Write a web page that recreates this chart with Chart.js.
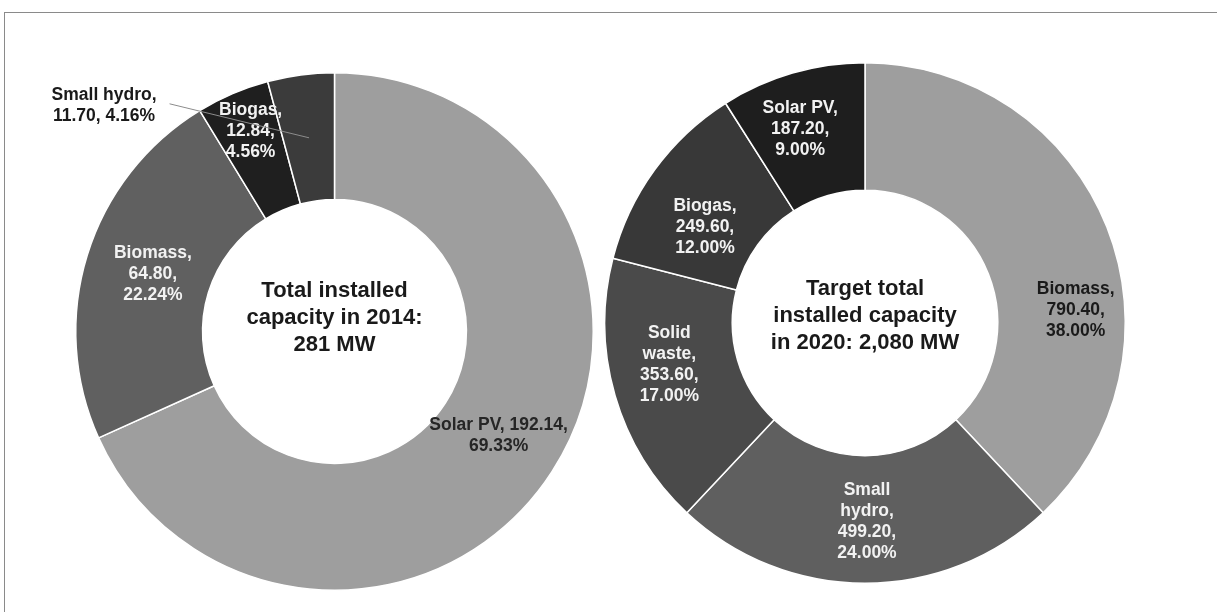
<!DOCTYPE html>
<html>
<head>
<meta charset="utf-8">
<script src="https://cdn.jsdelivr.net/npm/chart.js@4.4.1/dist/chart.umd.min.js"></script>
<style>
  html, body { margin: 0; padding: 0; background: #fff; }
  #wrap { position: relative; width: 1217px; height: 612px; overflow: hidden; }
  #frame { position: absolute; left: 4px; top: 12px; width: 1213px; height: 600px;
           border-top: 1px solid #8a8a8a; border-left: 1px solid #8a8a8a; box-sizing: border-box; }
  canvas { position: absolute; top: 0; }
  #left { left: 0; }
  #right { left: 600px; }
</style>
</head>
<body>
<div id="wrap">
  <div id="frame"></div>
  <canvas id="left" width="600" height="612"></canvas>
  <canvas id="right" width="617" height="612"></canvas>
</div>
<script>
// 2014 installed capacity (MW)
const names2014 = ['Solar PV', 'Biomass', 'Biogas', 'Small hydro'];
const values2014 = [192.14, 64.80, 12.84, 11.70];
const shares2014 = [69.33, 22.24, 4.56, 4.16];
const center2014 = ['Total installed', 'capacity in 2014:', '281 MW'];

// 2020 target capacity (MW)
const names2020 = ['Biomass', 'Small hydro', 'Solid waste', 'Biogas', 'Solar PV'];
const values2020 = [790.40, 499.20, 353.60, 249.60, 187.20];
const shares2020 = [38.00, 24.00, 17.00, 12.00, 9.00];
const center2020 = ['Target total', 'installed capacity', 'in 2020: 2,080 MW'];

const FONT = '"Liberation Sans", Arial, sans-serif';

function wrapWords(ctx, text, maxW) {
    const words = text.split(' ');
    const lines = [];
    let cur = '';
    words.forEach(w => {
        const test = cur ? cur + ' ' + w : w;
        if (cur && ctx.measureText(test).width > maxW) {
            lines.push(cur);
            cur = w;
        } else {
            cur = test;
        }
    });
    if (cur) lines.push(cur);
    return lines;
}

// draws "name, value, share%" labels around each arc's centroid
const sliceLabels = {
    id: 'sliceLabels',
    afterDatasetsDraw(chart, args, opts) {
        const ctx = chart.ctx;
        const ds = chart.data.datasets[0];
        const meta = chart.getDatasetMeta(0);
        ctx.save();
        ctx.font = `bold ${opts.fontSize}px ${FONT}`;
        ctx.textAlign = 'center';
        ctx.textBaseline = 'middle';
        meta.data.forEach((arc, i) => {
            const c = arc.tooltipPosition();
            const text = `${chart.data.labels[i]}, ${ds.data[i].toFixed(2)}, ${opts.shares[i].toFixed(2)}%`;
            const lines = wrapWords(ctx, text, opts.wrap[i]);
            const lx = c.x + opts.offsets[i][0];
            const ly = c.y + opts.offsets[i][1];
            const lh = opts.lineHeight;
            if (opts.leaders[i]) {
                const maxW = Math.max(...lines.map(l => ctx.measureText(l).width));
                ctx.strokeStyle = '#8c8c8c';
                ctx.lineWidth = 1;
                ctx.beginPath();
                ctx.moveTo(lx + maxW / 2 + 13, ly - 2);
                ctx.lineTo(c.x, c.y);
                ctx.stroke();
            }
            ctx.fillStyle = opts.colors[i];
            lines.forEach((l, k) => {
                ctx.fillText(l, lx, ly - (lines.length - 1) * lh / 2 + k * lh);
            });
        });
        ctx.restore();
    }
};

// bold title inside the doughnut hole
const centerText = {
    id: 'centerText',
    afterDraw(chart, args, opts) {
        const arc = chart.getDatasetMeta(0).data[0];
        const ctx = chart.ctx;
        ctx.save();
        ctx.font = `bold 22px ${FONT}`;
        ctx.fillStyle = '#1a1a1a';
        ctx.textAlign = 'center';
        ctx.textBaseline = 'middle';
        const n = opts.lines.length;
        opts.lines.forEach((l, k) => {
            ctx.fillText(l, arc.x, arc.y + opts.dy - (n - 1) * 27 / 2 + k * 27);
        });
        ctx.restore();
    }
};

function makeDonut(id, names, values, colors, padding, labelOpts, centerOpts) {
    return new Chart(document.getElementById(id), {
        type: 'doughnut',
        data: {
            labels: names,
            datasets: [{
                data: values,
                backgroundColor: colors,
                borderColor: '#ffffff',
                borderWidth: 1.5
            }]
        },
        options: {
            responsive: false,
            animation: false,
            cutout: '51%',
            layout: { padding: padding },
            plugins: {
                legend: { display: false },
                tooltip: { enabled: false },
                sliceLabels: labelOpts,
                centerText: centerOpts
            }
        },
        plugins: [sliceLabels, centerText]
    });
}

makeDonut('left', names2014, values2014,
    ['#9e9e9e', '#606060', '#1f1f1f', '#3b3b3b'],
    { left: 75, top: 72, right: 6, bottom: 21 },
    {
        shares: shares2014,
        fontSize: 17.5,
        lineHeight: 21,
        wrap: [150, 85, 85, 110],
        offsets: [[0, -2], [5, 0], [-7, -21], [-205, -32]],
        leaders: [false, false, false, true],
        colors: ['#262626', '#f2f2f2', '#f2f2f2', '#1a1a1a']
    },
    { lines: center2014, dy: -14 });

makeDonut('right', names2020, values2020,
    ['#9e9e9e', '#5f5f5f', '#4a4a4a', '#383838', '#1e1e1e'],
    { left: 4, top: 62, right: 91, bottom: 28 },
    {
        shares: shares2020,
        fontSize: 17.5,
        lineHeight: 21,
        wrap: [85, 85, 85, 85, 85],
        offsets: [[28, 60], [2, 2], [-7, -13], [-1, 20], [-10, -5]],
        leaders: [false, false, false, false, false],
        colors: ['#1a1a1a', '#f2f2f2', '#f2f2f2', '#f2f2f2', '#f2f2f2']
    },
    { lines: center2020, dy: -7 });
</script>
</body>
</html>
